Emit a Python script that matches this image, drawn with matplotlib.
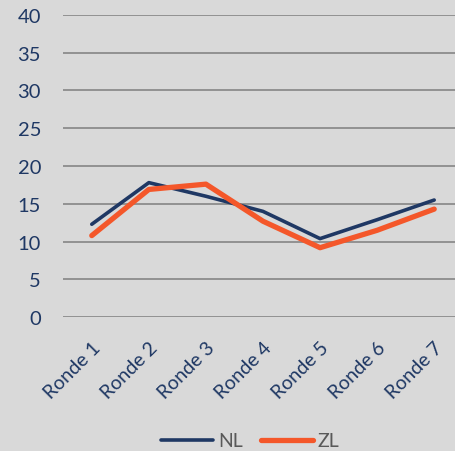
import matplotlib.pyplot as plt

rondes = ["Ronde 1", "Ronde 2", "Ronde 3", "Ronde 4", "Ronde 5", "Ronde 6", "Ronde 7"]
nl = [12.3, 17.8, 16.0, 14.0, 10.4, 12.9, 15.5]
zl = [10.8, 16.9, 17.6, 12.7, 9.2, 11.5, 14.3]

bg = "#d9d9d9"
navy = "#1f3864"
orange = "#f4572a"

plt.rcParams["font.family"] = ["Lato", "DejaVu Sans"]

fig = plt.figure(figsize=(4.55, 4.52), dpi=100, facecolor=bg)
ax = fig.add_axes([0.139, 0.2958, 0.878, 0.6695], facecolor=bg)

x = list(range(len(rondes)))
ax.plot(x, nl, color=navy, linewidth=2.6, label="NL", solid_capstyle="round")
ax.plot(x, zl, color=orange, linewidth=3.8, label="ZL", solid_capstyle="round")

ax.set_xlim(-0.5, len(rondes) - 0.5)
ax.set_ylim(0, 40)
ax.set_yticks(range(0, 41, 5))
ax.yaxis.grid(True, color="#8c8c8c", linewidth=1.3)
ax.set_axisbelow(True)
for s in ax.spines.values():
    s.set_visible(False)

ax.set_xticks(x)
ax.set_xticklabels(rondes, rotation=45, ha="right", va="top", rotation_mode="anchor",
                   fontsize=14, color=navy)
ax.tick_params(axis="x", length=0, pad=15)
ax.tick_params(axis="y", length=0, pad=16, labelsize=14.5, labelcolor=navy)

leg = fig.legend(loc="lower center", bbox_to_anchor=(0.55, -0.035), ncol=2, frameon=False,
                 fontsize=14, handlelength=2.7, columnspacing=0.9, handletextpad=0.25)
for t in leg.get_texts():
    t.set_color("#595959")

fig.savefig("out.png", dpi=100, facecolor=bg)
